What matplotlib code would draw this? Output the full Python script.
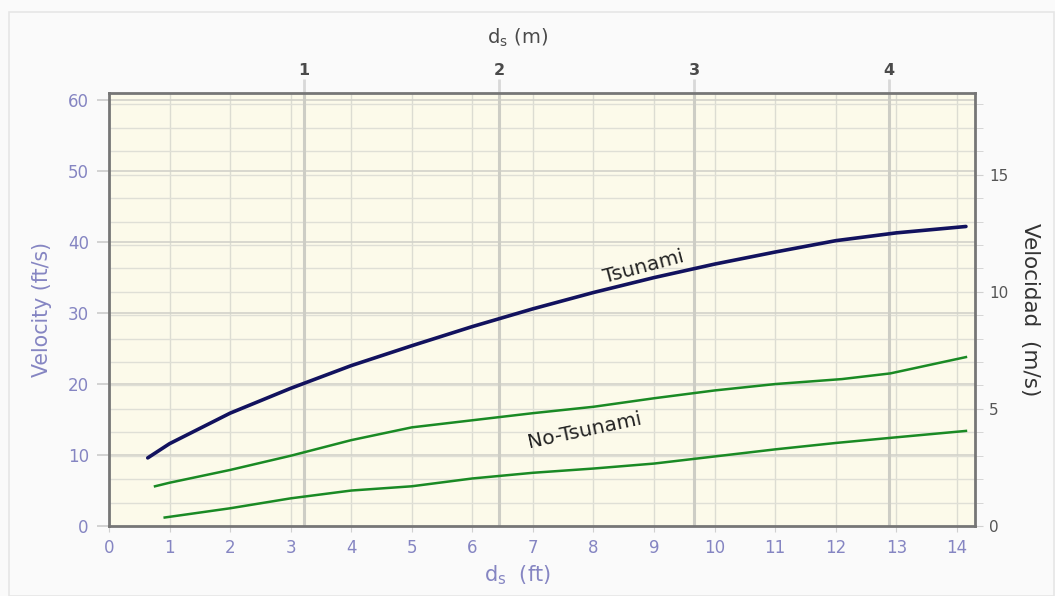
import numpy as np
import matplotlib.pyplot as plt
from matplotlib.patches import Rectangle

plt.rcParams['font.family'] = ['DejaVu Sans']

# data (d_s in ft, velocity in ft/s)
tsunami_x = [0.64, 1, 2, 3, 4, 5, 6, 7, 8, 9, 10, 11, 12, 13, 14.15]
tsunami_y = [9.6, 11.6, 15.9, 19.4, 22.6, 25.4, 28.1, 30.6, 32.9, 35.0, 36.9, 38.6, 40.2, 41.3, 42.2]

upper_x = [0.76, 1, 2, 3, 4, 5, 6, 7, 8, 9, 10, 11, 12.1, 12.9, 14.15]
upper_y = [5.6, 6.1, 7.9, 9.9, 12.1, 13.9, 14.9, 15.9, 16.8, 18.0, 19.1, 20.0, 20.7, 21.5, 23.8]

lower_x = [0.92, 2, 3, 4, 5, 6, 7, 8, 9, 10, 11, 12, 13, 14.15]
lower_y = [1.2, 2.5, 3.9, 5.0, 5.6, 6.7, 7.5, 8.1, 8.8, 9.8, 10.8, 11.7, 12.5, 13.4]

ft_ticks = list(range(0, 15))
vel_ticks = [0, 10, 20, 30, 40, 50, 60]
m_ticks = [1, 2, 3, 4]
ms_ticks = [0, 5, 10, 15]

FT_PER_M = 3.22      # spacing of the metre axis as drawn in the original
FTS_PER_MS = 3.3

LAV = '#8585c2'
DARK = '#4a4a4a'

fig = plt.figure(figsize=(10.55, 5.96), dpi=100, facecolor='#fafafa')
fig.patches.append(Rectangle((0.009, 0.0), 0.99, 0.98, transform=fig.transFigure,
                             facecolor='none', edgecolor='#e6e6e6', lw=1.2))

ax = fig.add_axes([0.1033, 0.1174, 0.8209, 0.7265])
ax.set_facecolor('#fcfaea')
ax.set_xlim(0, 14.3)
ax.set_ylim(0, 61)

# grid: ft + ft/s majors, m/s every 1, metres darker
for x in ft_ticks[1:]:
    ax.axvline(x, color='#dcdcd2', lw=1, zorder=0)
for v in vel_ticks[1:]:
    ax.axhline(v, color='#d2d2ca', lw=1.2, zorder=0)
for v in range(1, 19):
    ax.axhline(v * FTS_PER_MS, color='#dfdfd6', lw=1, zorder=0)
for m in m_ticks:
    ax.axvline(m * FT_PER_M, color='#cdcdc5', lw=2.2, zorder=0)

ax.plot(tsunami_x, tsunami_y, color='#12125e', lw=2.6, solid_capstyle='round',
        solid_joinstyle='round', zorder=3)
ax.plot(upper_x, upper_y, color='#1a8a24', lw=1.8, solid_joinstyle='round', zorder=3)
ax.plot(lower_x, lower_y, color='#1a8a24', lw=1.8, solid_joinstyle='round', zorder=3)

ax.text(8.82, 36.5, 'Tsunami', rotation=15, fontsize=14.5, color='#222222',
        ha='center', va='center', rotation_mode='anchor')
ax.text(7.86, 13.4, 'No-Tsunami', rotation=12, fontsize=14.5, color='#222222',
        ha='center', va='center', rotation_mode='anchor')

for s in ax.spines.values():
    s.set_color('#767676')
    s.set_linewidth(2)

ax.set_xticks(ft_ticks)
ax.set_yticks(vel_ticks)
ax.tick_params(axis='x', colors='#d0d0d0', labelcolor=LAV, labelsize=12, length=4, pad=5)
ax.tick_params(axis='y', colors='#cccccc', labelcolor=LAV, labelsize=12, length=8.5, width=1.2, pad=6)
ax.set_xlabel(r'd$_\mathregular{s}$  (ft)', color=LAV, fontsize=15, ha='center', va='center')
ax.xaxis.set_label_coords(0.472, -0.113)
ax.set_ylabel('Velocity (ft/s)', color=LAV, fontsize=14.8, ha='center', va='center')
ax.yaxis.set_label_coords(-0.0774, 0.5)

top = ax.secondary_xaxis('top', functions=(lambda x: x / FT_PER_M, lambda m: m * FT_PER_M))
top.set_xticks(m_ticks)
top.spines['top'].set_visible(False)
top.tick_params(colors='#d8d8d8', labelcolor=DARK, labelsize=11.5, length=10, width=2, pad=1)
for t in top.get_xticklabels():
    t.set_fontweight('bold')
top.set_xlabel(r'd$_\mathregular{s}$ (m)', color=DARK, fontsize=14, ha='center', va='center')
top.xaxis.set_label_coords(0.472, 1.127, transform=ax.transAxes)

right = ax.secondary_yaxis('right', functions=(lambda v: v / FTS_PER_MS, lambda v: v * FTS_PER_MS))
right.set_yticks(ms_ticks)
right.set_yticks(range(0, 19), minor=True)
right.spines['right'].set_visible(False)
right.tick_params(which='both', colors='#d0d0d0', labelcolor='#555555', labelsize=11, length=6, pad=4)
right.set_ylabel('Velocidad  (m/s)', color='#333333', fontsize=15.5, rotation=-90,
                 ha='center', va='center')
right.yaxis.set_label_coords(1.0635, 0.5, transform=ax.transAxes)

fig.savefig('out.png', dpi=100, facecolor=fig.get_facecolor())
